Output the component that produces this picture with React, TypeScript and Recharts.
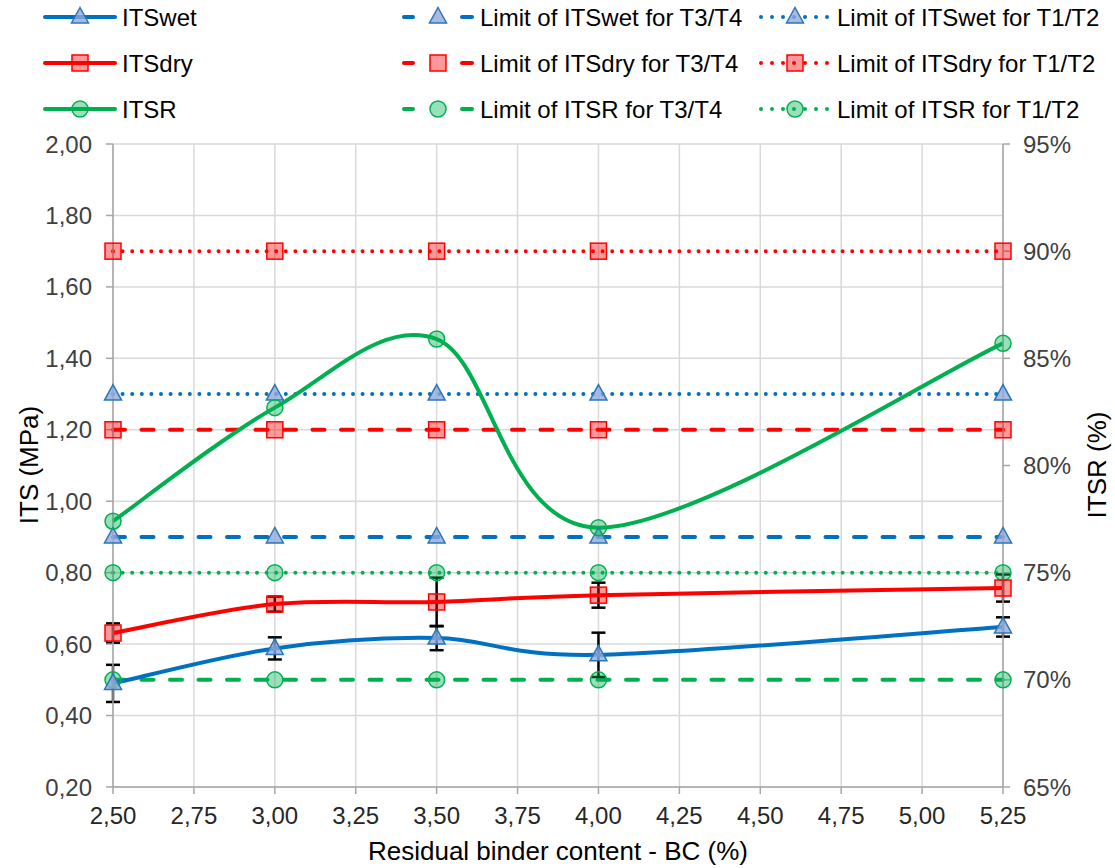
import React from 'react';
import { ComposedChart, Line, XAxis, YAxis, CartesianGrid, ErrorBar } from 'recharts';

const bcValues = [2.5, 3.0, 3.5, 4.0, 5.25];
const itsWet = [0.49, 0.588, 0.617, 0.57, 0.648];
const itsWetErr = [0.052, 0.031, 0.034, 0.062, 0.027];
const itsDry = [0.631, 0.712, 0.718, 0.737, 0.757];
const itsDryErr = [0.027, 0.021, 0.068, 0.035, 0.038];
const itsr = [77.4, 82.7, 85.9, 77.1, 85.7];

const itsWetLimitT3T4 = [0.9, 0.9, 0.9, 0.9, 0.9];
const itsWetLimitT1T2 = [1.3, 1.3, 1.3, 1.3, 1.3];
const itsDryLimitT3T4 = [1.2, 1.2, 1.2, 1.2, 1.2];
const itsDryLimitT1T2 = [1.7, 1.7, 1.7, 1.7, 1.7];
const itsrLimitT3T4 = [70, 70, 70, 70, 70];
const itsrLimitT1T2 = [75, 75, 75, 75, 75];

const xTicks = [2.5, 2.75, 3.0, 3.25, 3.5, 3.75, 4.0, 4.25, 4.5, 4.75, 5.0, 5.25];
const leftTicks = [0.2, 0.4, 0.6, 0.8, 1.0, 1.2, 1.4, 1.6, 1.8, 2.0];
const rightTicks = [65, 70, 75, 80, 85, 90, 95];

const data = bcValues.map((x, i) => ({
  x,
  wet: itsWet[i],
  wetErr: itsWetErr[i],
  dry: itsDry[i],
  dryErr: itsDryErr[i],
  itsr: itsr[i],
  wetLo: itsWetLimitT3T4[i],
  wetHi: itsWetLimitT1T2[i],
  dryLo: itsDryLimitT3T4[i],
  dryHi: itsDryLimitT1T2[i],
  itsrLo: itsrLimitT3T4[i],
  itsrHi: itsrLimitT1T2[i],
}));

const FONT = '"Liberation Sans", Arial, sans-serif';
const BLUE = '#0070C0';
const RED = '#FF0000';
const GREEN = '#00B050';
const LW = 4;
const DASH = '12 16.5';
const DOT = '0 9.6';

// Excel-like smoothed curve (Catmull-Rom as cubic Bezier)
const excelCurve: any = (context: any) => {
  let pts: number[][] = [];
  return {
    areaStart() {},
    areaEnd() {},
    lineStart() {
      pts = [];
    },
    point(x: number, y: number) {
      pts.push([+x, +y]);
    },
    lineEnd() {
      if (!pts.length) return;
      context.moveTo(pts[0][0], pts[0][1]);
      const t = 1 / 6;
      for (let i = 0; i < pts.length - 1; i++) {
        const p0 = pts[i - 1] || pts[i];
        const p1 = pts[i];
        const p2 = pts[i + 1];
        const p3 = pts[i + 2] || p2;
        context.bezierCurveTo(
          p1[0] + (p2[0] - p0[0]) * t,
          p1[1] + (p2[1] - p0[1]) * t,
          p2[0] - (p3[0] - p1[0]) * t,
          p2[1] - (p3[1] - p1[1]) * t,
          p2[0],
          p2[1]
        );
      }
    },
  };
};

const Triangle = ({ cx, cy }: { cx: number; cy: number }) => (
  <path
    d={`M${cx},${cy - 9.5} L${cx + 8.5},${cy + 6} L${cx - 8.5},${cy + 6} Z`}
    fill="#8FAADC"
    fillOpacity={0.8}
    stroke="#2E75B6"
    strokeWidth={1.5}
  />
);
const Square = ({ cx, cy }: { cx: number; cy: number }) => (
  <rect x={cx - 8} y={cy - 8} width={16} height={16} fill={RED} fillOpacity={0.4} stroke={RED} strokeWidth={1.5} />
);
const Circle = ({ cx, cy }: { cx: number; cy: number }) => (
  <circle cx={cx} cy={cy} r={8} fill={GREEN} fillOpacity={0.4} stroke={GREEN} strokeWidth={1.5} />
);

const dotRenderer = (Shape: any, prefix: string) => (props: any) => {
  const { cx, cy, index } = props;
  if (cx == null || cy == null) return <g key={`${prefix}-${index}`} />;
  return (
    <g key={`${prefix}-${index}`}>
      <Shape cx={cx} cy={cy} />
    </g>
  );
};

const fmt2 = (v: number) => v.toFixed(2).replace('.', ',');

type LegendItem = { label: string; color: string; style: 'solid' | 'dash' | 'dot'; shape: any };
const legendCols: LegendItem[][] = [
  [
    { label: 'ITSwet', color: BLUE, style: 'solid', shape: Triangle },
    { label: 'ITSdry', color: RED, style: 'solid', shape: Square },
    { label: 'ITSR', color: GREEN, style: 'solid', shape: Circle },
  ],
  [
    { label: 'Limit of ITSwet for T3/T4', color: BLUE, style: 'dash', shape: Triangle },
    { label: 'Limit of ITSdry for T3/T4', color: RED, style: 'dash', shape: Square },
    { label: 'Limit of ITSR for T3/T4', color: GREEN, style: 'dash', shape: Circle },
  ],
  [
    { label: 'Limit of ITSwet for T1/T2', color: BLUE, style: 'dot', shape: Triangle },
    { label: 'Limit of ITSdry for T1/T2', color: RED, style: 'dot', shape: Square },
    { label: 'Limit of ITSR for T1/T2', color: GREEN, style: 'dot', shape: Circle },
  ],
];
const legendColX = [45, 403, 760];
const legendRowY = [17, 63, 109];

const LegendEntry = ({ item, x0, y }: { item: LegendItem; x0: number; y: number }) => {
  const x1 = x0 + 70;
  const mid = (x0 + x1) / 2;
  const Shape = item.shape;
  let line;
  if (item.style === 'solid') {
    line = <line x1={x0} y1={y} x2={x1} y2={y} stroke={item.color} strokeWidth={LW} strokeLinecap="round" />;
  } else if (item.style === 'dash') {
    line = (
      <g>
        <line x1={x0 + 1} y1={y} x2={x0 + 10} y2={y} stroke={item.color} strokeWidth={LW} strokeLinecap="round" />
        <line x1={x1 - 11} y1={y} x2={x1 - 1} y2={y} stroke={item.color} strokeWidth={LW} strokeLinecap="round" />
      </g>
    );
  } else {
    line = (
      <line x1={x0 + 1} y1={y} x2={x1} y2={y} stroke={item.color} strokeWidth={LW} strokeDasharray="0 11" strokeLinecap="round" />
    );
  }
  return (
    <g>
      {line}
      <Shape cx={mid} cy={y} />
      <text x={x1 + 7} y={y + 8.5} fontSize={24} fontFamily={FONT} fill="#000">
        {item.label}
      </text>
    </g>
  );
};

export default function App() {
  const axisStroke = { stroke: '#A6A6A6', strokeWidth: 1.5 };
  return (
    <div style={{ position: 'absolute', left: 0, top: 0, width: 1115, height: 868, background: '#fff' }}>
      <ComposedChart width={1115} height={868} data={data} margin={{ top: 144, right: 0, bottom: 0, left: 0 }}>
        <CartesianGrid yAxisId="left" stroke="#D9D9D9" strokeWidth={1.5} />
        <XAxis
          dataKey="x"
          type="number"
          domain={[2.5, 5.25]}
          ticks={xTicks}
          tickFormatter={fmt2}
          height={81}
          tickSize={7}
          tickMargin={13}
          axisLine={axisStroke}
          tickLine={axisStroke}
          tick={{ fill: '#262626', fontSize: 24, fontFamily: FONT }}
          interval={0}
        />
        <YAxis
          yAxisId="left"
          domain={[0.2, 2.0]}
          ticks={leftTicks}
          tickFormatter={fmt2}
          width={113}
          tickSize={7}
          tickMargin={14}
          axisLine={axisStroke}
          tickLine={axisStroke}
          tick={{ fill: '#404040', fontSize: 24, fontFamily: FONT }}
          interval={0}
        />
        <YAxis
          yAxisId="right"
          orientation="right"
          domain={[65, 95]}
          ticks={rightTicks}
          tickFormatter={(v: number) => `${v}%`}
          width={112}
          tickSize={7}
          tickMargin={13}
          axisLine={axisStroke}
          tickLine={axisStroke}
          tick={{ fill: '#404040', fontSize: 24, fontFamily: FONT }}
          interval={0}
        />

        <Line yAxisId="left" dataKey="wetLo" stroke={BLUE} strokeWidth={LW} strokeDasharray={DASH} strokeLinecap="round" type="linear" dot={dotRenderer(Triangle, 'wl')} activeDot={false} isAnimationActive={false} />
        <Line yAxisId="left" dataKey="wetHi" stroke={BLUE} strokeWidth={LW} strokeDasharray={DOT} strokeLinecap="round" type="linear" dot={dotRenderer(Triangle, 'wh')} activeDot={false} isAnimationActive={false} />
        <Line yAxisId="left" dataKey="dryLo" stroke={RED} strokeWidth={LW} strokeDasharray={DASH} strokeLinecap="round" type="linear" dot={dotRenderer(Square, 'dl')} activeDot={false} isAnimationActive={false} />
        <Line yAxisId="left" dataKey="dryHi" stroke={RED} strokeWidth={LW} strokeDasharray={DOT} strokeLinecap="round" type="linear" dot={dotRenderer(Square, 'dh')} activeDot={false} isAnimationActive={false} />
        <Line yAxisId="right" dataKey="itsrLo" stroke={GREEN} strokeWidth={LW} strokeDasharray={DASH} strokeLinecap="round" type="linear" dot={dotRenderer(Circle, 'rl')} activeDot={false} isAnimationActive={false} />
        <Line yAxisId="right" dataKey="itsrHi" stroke={GREEN} strokeWidth={LW} strokeDasharray={DOT} strokeLinecap="round" type="linear" dot={dotRenderer(Circle, 'rh')} activeDot={false} isAnimationActive={false} />

        <Line yAxisId="right" dataKey="itsr" stroke={GREEN} strokeWidth={LW} type={excelCurve} dot={dotRenderer(Circle, 'r')} activeDot={false} isAnimationActive={false} />
        <Line yAxisId="left" dataKey="dry" stroke={RED} strokeWidth={LW} type={excelCurve} dot={dotRenderer(Square, 'd')} activeDot={false} isAnimationActive={false}>
          <ErrorBar dataKey="dryErr" direction="y" width={7} stroke="#000" strokeWidth={2.5} />
        </Line>
        <Line yAxisId="left" dataKey="wet" stroke={BLUE} strokeWidth={LW} type={excelCurve} dot={dotRenderer(Triangle, 'w')} activeDot={false} isAnimationActive={false}>
          <ErrorBar dataKey="wetErr" direction="y" width={7} stroke="#000" strokeWidth={2.5} />
        </Line>
      </ComposedChart>

      <svg width={1115} height={868} style={{ position: 'absolute', left: 0, top: 0, pointerEvents: 'none' }}>
        {legendCols.map((col, ci) =>
          col.map((item, ri) => <LegendEntry key={`${ci}-${ri}`} item={item} x0={legendColX[ci]} y={legendRowY[ri]} />)
        )}
        <text transform="translate(29,465) rotate(-90)" textAnchor="middle" dominantBaseline="central" fontSize={26} fontFamily={FONT} fill="#000">
          ITS (MPa)
        </text>
        <text transform="translate(1097,465) rotate(-90)" textAnchor="middle" dominantBaseline="central" fontSize={26} fontFamily={FONT} fill="#000">
          ITSR (%)
        </text>
        <text x={558} y={860} textAnchor="middle" fontSize={26} fontFamily={FONT} fill="#000">
          Residual binder content - BC (%)
        </text>
      </svg>
    </div>
  );
}
